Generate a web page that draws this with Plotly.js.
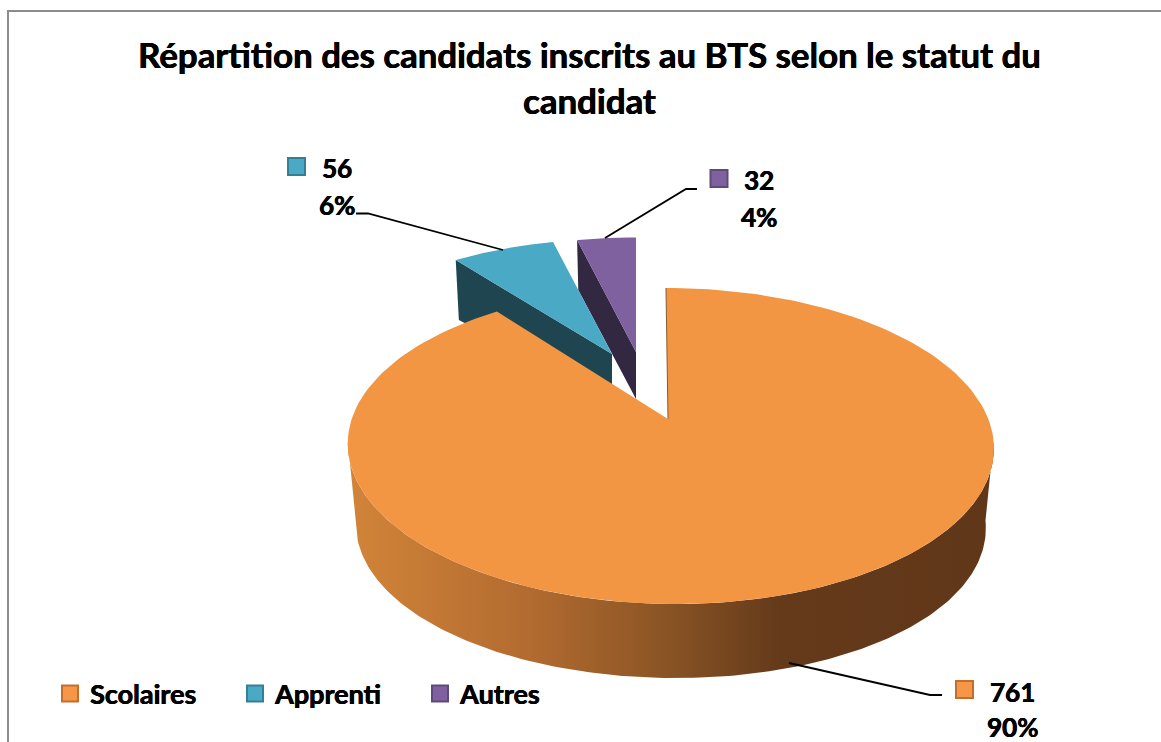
<!DOCTYPE html>
<html>
<head>
<meta charset="utf-8">
<script src="https://cdn.plot.ly/plotly-3.0.1.min.js"></script>
<style>html,body{margin:0;padding:0;background:#fff;overflow:hidden}#chart{width:1161px;height:742px}</style>
</head>
<body>
<div id="chart"></div>
<script>
// ---- data ----
const categories = ["Scolaires", "Apprenti", "Autres"];
const values = [761, 56, 32];
const percentLabels = ["90%", "6%", "4%"];
const titleText = "Répartition des candidats inscrits au BTS selon le statut du<br>candidat";

// ---- styles ----
const FONT = "Lato, Carlito, 'Open Sans', sans-serif";
const HEAVY = "0.45px 0 0 #000, -0.25px 0 0 #000";
const topColors = ["#f39644", "#4aa9c4", "#7f61a0"];
const swatchColors = ["#f79646", "#4aa9c4", "#7f61a0"];
const sideColors = [null, "#1f4650", "#332842"];
const edgeColors = ["#c06f2f", "#357f93", "#5e4a7a"];

// ---- projection of the tilted pie onto the axes ----
const view = {cx: 670, cy: 419, R: 318.3, S: 153.4, k: 0.171, shear: -4.7};
function rim(deg) {
  const t = deg * Math.PI / 180, u = Math.sin(t), v = Math.cos(t), w = 1 + view.k * v;
  return [view.R * u / w, view.S * v / w, view.shear * v / w];
}
const total = values.reduce((a, b) => a + b, 0);
const spans = values.map(v => v / total * 360);
const purpleStart = 360 - spans[2];
const blueStart = purpleStart - spans[1];

function arc(a0, a1, n) {
  const out = [];
  for (let i = 0; i <= n; i++) out.push(a0 + (a1 - a0) * i / n);
  return out;
}
function wedgeTrace(apexX, apexY, a0, a1, sx, sy, color, shear) {
  const xs = [apexX], ys = [apexY];
  arc(a0, a1, 180).forEach(d => {
    const p = rim(d);
    xs.push(apexX + p[0] * sx + (shear ? p[2] + 2 : 0));
    ys.push(apexY - p[1] * sy);
  });
  xs.push(apexX); ys.push(apexY);
  return {type: "scatter", mode: "lines", x: xs, y: ys, fill: "toself", fillcolor: color,
          line: {width: 0, color: color}, hoverinfo: "skip", showlegend: false};
}
function radialWall(apexX, apexY, a, sx, sy, dApex, dOuter, color) {
  const p = rim(a);
  const ox = apexX + p[0] * sx, oy = apexY - p[1] * sy;
  const bx = apexX + p[0] * sx * 0.98, by = oy + dOuter;
  return {type: "scatter", mode: "lines", x: [apexX, ox, bx, apexX, apexX], y: [apexY, oy, by, apexY + dApex, apexY],
          fill: "toself", fillcolor: color, line: {width: 0, color: color}, hoverinfo: "skip", showlegend: false};
}
function orangeWall() {
  const xs = [], ys = [];
  const shrink = 0.975;
  const span = arc(98, 262, 180);
  span.forEach(d => { const p = rim(d); xs.push(view.cx + p[0] + p[2]); ys.push(view.cy - p[1]); });
  span.slice().reverse().forEach(d => {
    const p = rim(d);
    const s = Math.sin(d * Math.PI / 180);
    const depth = 74 + 6 * s * s;
    xs.push(view.cx + p[0] * shrink + p[2]); ys.push(view.cy - p[1] + depth);
  });
  xs.push(xs[0]); ys.push(ys[0]);
  return {type: "scatter", mode: "lines", x: xs, y: ys, fill: "toself",
          fillgradient: {type: "horizontal", start: 347, stop: 993,
            colorscale: [[0, "#d28539"], [0.283, "#b26b30"], [0.47, "#8f5726"], [0.67, "#643a1b"], [1, "#613719"]]},
          line: {width: 0, color: "#8a5a2a"}, hoverinfo: "skip", showlegend: false};
}

const traces = [
  radialWall(636, 352, purpleStart, 0.92, 0.875, 47, 50, sideColors[2]),
  wedgeTrace(636, 352, purpleStart, 360, 0.92, 0.875, topColors[2]),
  radialWall(612, 354, blueStart, 0.92, 0.875, 47, 60, sideColors[1]),
  wedgeTrace(612, 354, blueStart, purpleStart, 0.92, 0.875, topColors[1]),
  orangeWall()
];
const orangeTop = wedgeTrace(668, 419, 0, spans[0], 1, 1, topColors[0], true);
traces.push(orangeTop);
traces.push({type: "scatter", mode: "lines", x: [orangeTop.x[0], orangeTop.x[1]], y: [orangeTop.y[0], orangeTop.y[1]],
             line: {width: 1, color: "#8a5a2a"}, hoverinfo: "skip", showlegend: false});

categories.forEach((c, i) => traces.push({
  type: "scatter", mode: "markers", x: [null], y: [null], name: c,
  marker: {symbol: "square", size: 16, color: swatchColors[i], line: {width: 2, color: edgeColors[i]}},
  hoverinfo: "skip", showlegend: true
}));

// ---- data labels ----
const labelPos = [
  {vx: 1012, vy: 692, px: 1012, py: 727, sx0: 956, sy0: 681},
  {vx: 337, vy: 168, px: 337, py: 205, sx0: 288, sy0: 158},
  {vx: 759, vy: 180, px: 759, py: 217, sx0: 710.5, sy0: 170}
];
const annotations = [];
const shapes = [
  {type: "path", path: "M8,742 L8,11 L1161,11", line: {color: "#8c8c8c", width: 2}, layer: "below"},
  {type: "path", path: "M789,663 L930,695 L942,695", line: {color: "#000", width: 1.8}},
  {type: "path", path: "M503,250 L368,213.5 L356,213.5", line: {color: "#000", width: 1.8}},
  {type: "path", path: "M605,238 L686,189 L697,189", line: {color: "#000", width: 1.8}}
];
values.forEach((v, i) => {
  const p = labelPos[i];
  const f = {family: FONT, size: 26, color: "#000", weight: 700, shadow: HEAVY};
  annotations.push({x: p.vx, y: p.vy, xref: "x", yref: "y", text: String(v), showarrow: false, font: f, xanchor: "center", yanchor: "middle"});
  annotations.push({x: p.px, y: p.py, xref: "x", yref: "y", text: percentLabels[i], showarrow: false, font: f, xanchor: "center", yanchor: "middle"});
  shapes.push({type: "rect", x0: p.sx0, x1: p.sx0 + 17, y0: p.sy0, y1: p.sy0 + 17,
               fillcolor: swatchColors[i], line: {color: edgeColors[i], width: 2}});
});

const layout = {
  width: 1161, height: 742,
  margin: {l: 0, r: 0, t: 0, b: 0},
  paper_bgcolor: "#fff", plot_bgcolor: "#fff",
  title: {text: titleText, x: 0.5077, xanchor: "center", y: 0.908, yanchor: "middle",
          font: {family: FONT, size: 34.8, color: "#000", weight: 700, shadow: HEAVY}},
  xaxis: {range: [0, 1161], visible: false, fixedrange: true},
  yaxis: {range: [742, 0], visible: false, fixedrange: true},
  showlegend: true,
  legend: {orientation: "h", x: 50 / 1161, xanchor: "left", y: 1 - 694 / 742, yanchor: "middle",
           entrywidth: 140, entrywidthmode: "pixels", traceorder: "normal",
           font: {family: FONT, size: 27, color: "#000", weight: 700, shadow: HEAVY}, bgcolor: "rgba(0,0,0,0)"},
  annotations: annotations,
  shapes: shapes
};
Plotly.newPlot("chart", traces, layout, {displayModeBar: false, staticPlot: true});
</script>
</body>
</html>
